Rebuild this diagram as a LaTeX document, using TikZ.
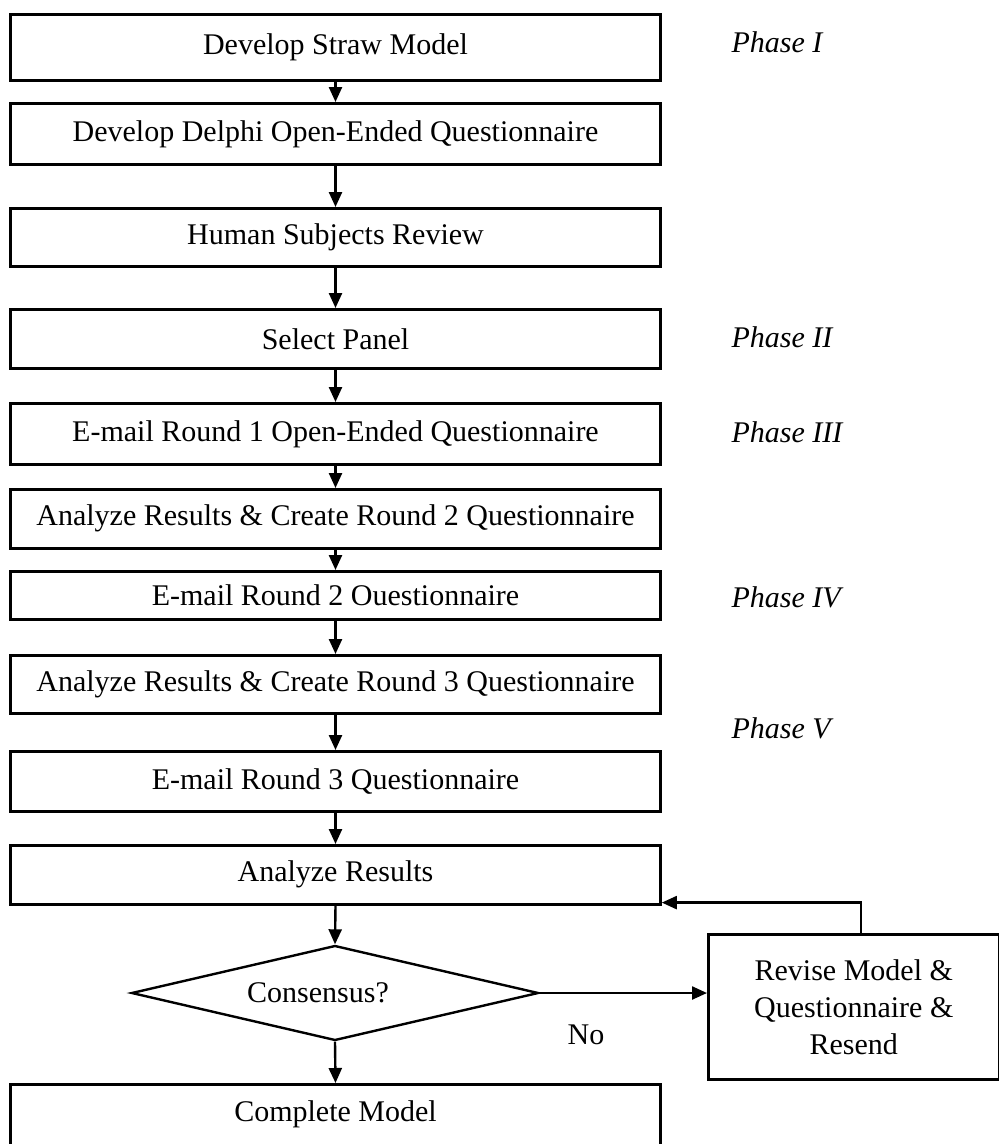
\documentclass[tikz,border=0pt]{standalone}
\usepackage{fontspec}
\setmainfont{Liberation Serif}
\usetikzlibrary{arrows.meta,shapes.geometric}

\begin{document}
\begin{tikzpicture}[x=1pt,y=-1pt,
  every node/.style={font=\fontsize{30}{37}\selectfont},
  stepbox/.style={draw, line width=2.6pt, minimum width=650pt, inner sep=0pt, anchor=north},
  flow/.style={line width=2.4pt, -{Triangle[length=15pt,width=13pt]}},
  phase/.style={anchor=base west, font=\fontsize{30}{37}\selectfont\itshape}]

\useasboundingbox (0,0) rectangle (999,1144);

% main column of process steps
\node[stepbox, minimum height=66pt] (b1) at (335.5,13) {Develop Straw Model};
\node[stepbox, minimum height=61pt] (b2) at (335.5,102) {Develop Delphi Open-Ended Questionnaire};
\node[stepbox, minimum height=58pt] (b3) at (335.5,207) {Human Subjects Review};
\node[stepbox, minimum height=59pt] (b4) at (335.5,308) {Select Panel};
\node[stepbox, minimum height=61pt] (b5) at (335.5,402) {E-mail Round 1 Open-Ended Questionnaire};
\node[stepbox, minimum height=59pt] (b6) at (335.5,488) {Analyze Results \& Create Round 2 Questionnaire};
\node[stepbox, minimum height=48pt] (b7) at (335.5,570) {E-mail Round 2 Ouestionnaire};
\node[stepbox, minimum height=58pt] (b8) at (335.5,654) {Analyze Results \& Create Round 3 Questionnaire};
\node[stepbox, minimum height=60pt] (b9) at (335.5,750) {E-mail Round 3 Questionnaire};
\node[stepbox, minimum height=59pt] (b10) at (335.5,844) {Analyze Results};

% decision
\node[diamond, draw, line width=2.4pt, inner sep=0pt, aspect=4.3,
      minimum width=407pt, minimum height=95pt] (dec) at (335,993) {\hspace*{-34pt}Consensus?};

% final step, running off the bottom of the page
\node[stepbox, minimum height=77pt, text depth=24pt] (b11) at (335.5,1083) {Complete Model};

% revision step
\node[draw, line width=2.6pt, inner sep=0pt, minimum width=291pt, minimum height=145pt,
      align=center, anchor=north west] (rev) at (707,933) {Revise Model \&\\Questionnaire \&\\Resend};

\node (no) at (586,1035) {No};

% phase annotations
\node[phase] (p1) at (728,52) {Phase I};
\node[phase] (p2) at (728,347) {Phase II};
\node[phase] (p3) at (728,442) {Phase III};
\node[phase] (p4) at (728,607) {Phase IV};
\node[phase] (p5) at (728,738) {Phase V};

% connectors
\draw[flow] (b1.south) -- (b2.north);
\draw[flow] (b2.south) -- (b3.north);
\draw[flow] (b3.south) -- (b4.north);
\draw[flow] (b4.south) -- (b5.north);
\draw[flow] (b5.south) -- (b6.north);
\draw[flow] (b6.south) -- (b7.north);
\draw[flow] (b7.south) -- (b8.north);
\draw[flow] (b8.south) -- (b9.north);
\draw[flow] (b9.south) -- (b10.north);
\draw[flow] (b10.south) -- (dec.north);
\draw[flow] (dec.south) -- (b11.north);
\draw[flow] (dec.east) -- (dec.east -| rev.west);
\draw[flow] ([xshift=7pt]rev.north) |- ([yshift=3pt]b10.south east);

\end{tikzpicture}
\end{document}
